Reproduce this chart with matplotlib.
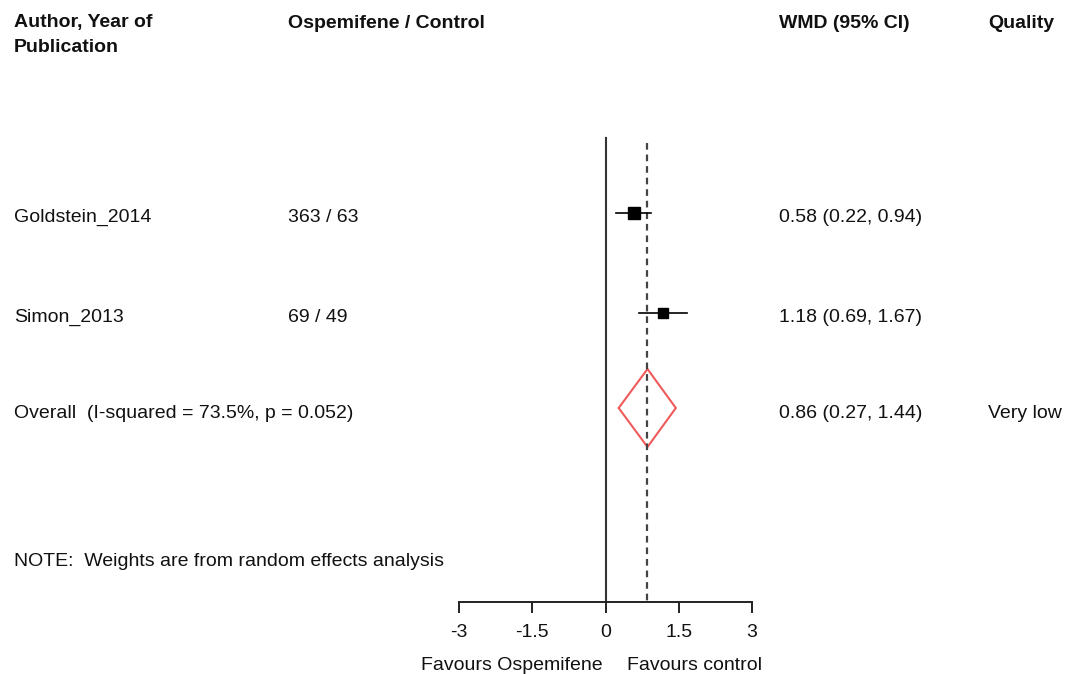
import matplotlib.pyplot as plt
from matplotlib.patches import Polygon

plt.rcParams['font.family'] = ['Liberation Sans', 'DejaVu Sans']

# данные метаанализа
studies = ["Goldstein_2014", "Simon_2013"]
counts = ["363 / 63", "69 / 49"]
wmd = [0.58, 1.18]
ci_lo = [0.22, 0.69]
ci_hi = [0.94, 1.67]
sq_size = [8.5, 7.5]  # размер квадрата ~ вес исследования

overall = 0.86
overall_lo = 0.27
overall_hi = 1.44
overall_label = "Overall  (I-squared = 73.5%, p = 0.052)"
quality = "Very low"
ticks = [-3, -1.5, 0, 1.5, 3]
tick_labels = ["-3", "-1.5", "0", "1.5", "3"]

W, H = 1072, 674
FS = 14
fig = plt.figure(figsize=(W / 100, H / 100), dpi=100)

# ось графика: x в единицах WMD, y в пикселях сверху вниз
ax = fig.add_axes([459 / W, 0, (752 - 459) / W, 1])
ax.set_xlim(-3, 3)
ax.set_ylim(H, 0)
ax.set_facecolor("none")
for s in ["top", "left", "right"]:
    ax.spines[s].set_visible(False)
ax.spines["bottom"].set_position(("data", 602))
ax.spines["bottom"].set_linewidth(1.4)
ax.spines["bottom"].set_color("#222222")
ax.set_yticks([])
ax.set_xticks(ticks)
ax.set_xticklabels(tick_labels)
ax.tick_params(axis="x", direction="out", length=8, width=1.4, color="#222222",
               labelsize=FS, pad=8, labelcolor="#111111")

row_y = [213, 313]
ov_y = 408

ax.plot([0, 0], [138, 602], color="#333333", lw=1.5)
ax.plot([overall, overall], [143, 602], color="#444444", lw=1.6, ls=(0, (3, 2.2)))

for i in range(len(studies)):
    ax.plot([ci_lo[i], ci_hi[i]], [row_y[i], row_y[i]], color="black", lw=1.2)
    ax.plot(wmd[i], row_y[i], marker="s", color="black", ms=sq_size[i])

diamond = Polygon([[overall_lo, ov_y], [overall, ov_y - 39], [overall_hi, ov_y], [overall, ov_y + 39]],
                  closed=True, fill=False, edgecolor="#f05a5a", lw=1.5)
ax.add_patch(diamond)


def txt(x, y, s, bold=False, ha="left"):
    fig.text(x / W, 1 - y / H, s, ha=ha, va="center", fontsize=FS,
             fontweight="bold" if bold else "normal", color="#111111")


# заголовки колонок
txt(14, 23, "Author, Year of", bold=True)
txt(14, 47, "Publication", bold=True)
txt(288, 23, "Ospemifene / Control", bold=True)
txt(779, 23, "WMD (95% CI)", bold=True)
txt(988, 23, "Quality", bold=True)

for i in range(len(studies)):
    txt(14, row_y[i] + 4, studies[i])
    txt(288, row_y[i] + 4, counts[i])
    txt(779, row_y[i] + 4, "%.2f (%.2f, %.2f)" % (wmd[i], ci_lo[i], ci_hi[i]))

txt(14, ov_y + 5, overall_label)
txt(779, ov_y + 5, "%.2f (%.2f, %.2f)" % (overall, overall_lo, overall_hi))
txt(988, ov_y + 5, quality)

txt(14, 562, "NOTE:  Weights are from random effects analysis")
txt(603, 665, "Favours Ospemifene", ha="right")
txt(627, 665, "Favours control")

fig.savefig("out.png", dpi=100)
